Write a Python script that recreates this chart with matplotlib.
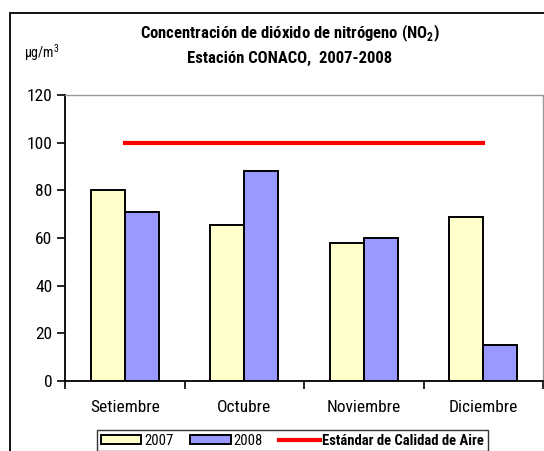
import matplotlib.pyplot as plt
import numpy as np
from matplotlib.patches import Rectangle, Patch
from matplotlib.lines import Line2D

# datos
meses = ['Setiembre', 'Octubre', 'Noviembre', 'Diciembre']
valores_2007 = [80, 65.5, 58, 69]
valores_2008 = [71, 88, 60, 15]
estandar = [100, 100, 100, 100]
yticks = [0, 20, 40, 60, 80, 100, 120]

plt.rcParams['font.family'] = ['Roboto Condensed', 'DejaVu Sans']
plt.rcParams['mathtext.fontset'] = 'custom'
plt.rcParams['mathtext.rm'] = 'Roboto Condensed'
plt.rcParams['mathtext.bf'] = 'Roboto Condensed:bold'

fig = plt.figure(figsize=(5.44, 4.51), dpi=100)
ax = fig.add_axes([65 / 544, 70 / 451, 478 / 544, 286 / 451])

x = np.arange(len(meses))
ancho = 0.285
ax.bar(x - ancho / 2, valores_2007, ancho, color='#FFFFCC', edgecolor='black', linewidth=1.4, zorder=3)
ax.bar(x + ancho / 2, valores_2008, ancho, color='#9999FF', edgecolor='black', linewidth=1.4, zorder=3)
ax.plot(x, estandar, color='#FF0000', linewidth=3, zorder=4)

ax.set_xlim(-0.5, len(meses) - 0.5)
ax.set_ylim(0, 120)
ax.set_yticks(yticks)
ax.set_yticklabels([str(v) for v in yticks], fontsize=12.5)

# ticks de categoria entre grupos
ax.set_xticks(np.arange(-0.5, len(meses), 1))
ax.set_xticklabels([])
ax.set_xticks(x, minor=True)
ax.set_xticklabels(meses, minor=True, fontsize=12.5)
ax.tick_params(axis='x', which='minor', length=0, pad=14)
ax.tick_params(axis='x', which='major', length=6, width=1.2, direction='out')
ax.tick_params(axis='y', length=6, width=1.2, direction='out', pad=3)

for lado in ['top', 'right']:
    ax.spines[lado].set_color('#999999')
    ax.spines[lado].set_linewidth(1)
for lado in ['left', 'bottom']:
    ax.spines[lado].set_linewidth(1.3)

# titulo
fig.text(290 / 544, 1 - 33 / 451, 'Concentración de dióxido de nitrógeno (NO$_\\mathbf{2}$)',
         ha='center', va='center', fontsize=12, fontweight='bold')
fig.text(290 / 544, 1 - 58 / 451, 'Estación CONACO,  2007-2008',
         ha='center', va='center', fontsize=12, fontweight='bold')
fig.text(24 / 544, 1 - 53 / 451, 'µg/m$^3$', ha='left', va='center', fontsize=10)

# marco exterior
fig.patches.append(Rectangle((10 / 544, -0.1), 1.2, 1.1 - 13 / 451, transform=fig.transFigure,
                             fill=False, edgecolor='black', linewidth=1.3))

# leyenda
handles = [Patch(facecolor='#FFFFCC', edgecolor='black', linewidth=1.4),
           Patch(facecolor='#9999FF', edgecolor='black', linewidth=1.4),
           Line2D([0], [0], color='#FF0000', linewidth=3)]
labels = ['2007', '2008', 'Estándar de Calidad de Aire']
leg = fig.legend(handles, labels, loc='upper left', bbox_to_anchor=(97 / 544, 1 - 430 / 451),
                 ncol=3, frameon=True, fancybox=False, edgecolor='black', fontsize=10.5,
                 handlelength=2.8, handleheight=0.6, handletextpad=0.2, columnspacing=1.1,
                 borderpad=0.25, borderaxespad=0)
leg.get_frame().set_linewidth(1)
leg.get_texts()[2].set_fontweight('bold')

fig.savefig('out.png', dpi=100)
